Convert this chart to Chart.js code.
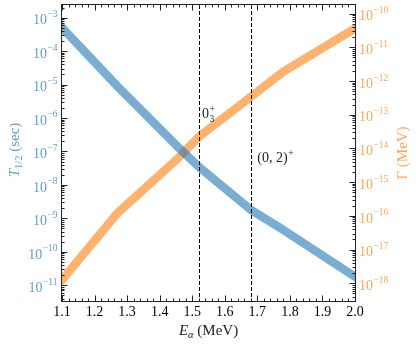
<!DOCTYPE html>
<html>
<head>
<meta charset="utf-8">
<script src="https://cdn.jsdelivr.net/npm/chart.js@4.4.1/dist/chart.umd.min.js"></script>
<style>
  html, body { margin: 0; padding: 0; background: #fff; }
  #wrap { width: 416px; height: 344px; }
</style>
</head>
<body>
<div id="wrap"><canvas id="decayChart" width="416" height="344"></canvas></div>
<script>
// alpha energies (MeV) and the two curves
const energies = [1.1, 1.27, 1.45, 1.52, 1.68, 1.78, 2.0];
const halfLives = [5.0e-4, 8.9e-6, 1.55e-7, 3.5e-8, 1.8e-9, 4.5e-10, 1.8e-11];
const widths = [1.26e-18, 1.2e-16, 4.5e-15, 2.2e-14, 3.4e-13, 1.9e-12, 3.6e-11];

// resonance levels marked with dashed lines
const levelEnergies = [1.52, 1.68];
const levelLabels = [
  { base: "0", sup: "+", sub: "3" },
  { base: "(0, 2)", sup: "+", sub: "" },
];
const levelLabelX = [1.53, 1.70];
const levelLabelY = [1e-6, 5e-8];

// tick labels
const xTickLabels = ["1.1", "1.2", "1.3", "1.4", "1.5", "1.6", "1.7", "1.8", "1.9", "2.0"];
const leftExponents = [-11, -10, -9, -8, -7, -6, -5, -4, -3];
const rightExponents = [-18, -17, -16, -15, -14, -13, -12, -11, -10];

const blueLine = "rgba(31, 119, 180, 0.6)";
const orangeLine = "rgba(255, 127, 14, 0.6)";
const blueText = "rgb(95, 158, 206)";
const orangeText = "rgb(255, 165, 90)";
const serif = "'Liberation Serif', 'DejaVu Serif', serif";

function drawPow(ctx, x, tickY, exp, align, color) {
  const base = "10";
  const ex = "\u2212" + Math.abs(exp);
  ctx.font = "14px " + serif;
  const wb = ctx.measureText(base).width;
  ctx.font = "9.5px " + serif;
  const we = ctx.measureText(ex).width;
  let x0 = align === "right" ? x - wb - we : x;
  ctx.fillStyle = color;
  ctx.textAlign = "left";
  ctx.textBaseline = "alphabetic";
  ctx.font = "14px " + serif;
  ctx.fillText(base, x0, tickY + 6.7);
  ctx.font = "9.5px " + serif;
  ctx.fillText(ex, x0 + wb + 0.5, tickY - 0.5);
}

const decor = {
  id: "decor",
  afterDatasetsDraw(chart) {
    const ctx = chart.ctx;
    const area = chart.chartArea;
    const xs = chart.scales.x, yl = chart.scales.y, yr = chart.scales.y2;
    ctx.save();

    // dashed level lines
    ctx.strokeStyle = "#000";
    ctx.lineWidth = 1;
    ctx.setLineDash([4, 2]);
    levelEnergies.forEach((e) => {
      const px = Math.round(xs.getPixelForValue(e)) + 0.5;
      ctx.beginPath();
      ctx.moveTo(px, area.top);
      ctx.lineTo(px, area.bottom);
      ctx.stroke();
    });
    ctx.setLineDash([]);

    // frame
    const L = Math.round(area.left) - 0.5, R = Math.round(area.right) + 0.5;
    const T = Math.round(area.top) - 0.5, B = Math.round(area.bottom) + 0.5;
    ctx.strokeStyle = "#222";
    ctx.lineWidth = 1;
    ctx.strokeRect(L, T, R - L, B - T);

    // x ticks (inward, top and bottom)
    ctx.beginPath();
    for (let i = 0; i <= 45; i++) {
      const v = 1.1 + i * 0.02;
      const px = Math.round(xs.getPixelForValue(v)) + 0.5;
      const len = i % 5 === 0 ? 6 : 3;
      ctx.moveTo(px, B); ctx.lineTo(px, B - len);
      ctx.moveTo(px, T); ctx.lineTo(px, T + len);
    }
    // log ticks
    const logTicks = (scale, xEdge, dir) => {
      const lo = Math.floor(Math.log10(scale.min)), hi = Math.ceil(Math.log10(scale.max));
      for (let n = lo; n <= hi; n++) {
        for (let k = 1; k <= 9; k++) {
          const v = k * Math.pow(10, n);
          if (v < scale.min || v > scale.max) continue;
          const py = Math.round(scale.getPixelForValue(v)) + 0.5;
          const len = k === 1 ? 6 : 3;
          ctx.moveTo(xEdge, py); ctx.lineTo(xEdge + dir * len, py);
        }
      }
    };
    logTicks(yl, L, 1);
    logTicks(yr, R, -1);
    ctx.stroke();

    // x tick labels
    ctx.fillStyle = "#000";
    ctx.font = "14px " + serif;
    ctx.textAlign = "center";
    ctx.textBaseline = "alphabetic";
    xTickLabels.forEach((t) => {
      ctx.fillText(t, xs.getPixelForValue(parseFloat(t)), area.bottom + 14.5);
    });

    // y tick labels
    leftExponents.forEach((e) => {
      drawPow(ctx, area.left - 5, yl.getPixelForValue(Math.pow(10, e)), e, "right", blueText);
    });
    rightExponents.forEach((e) => {
      drawPow(ctx, area.right + 4, yr.getPixelForValue(Math.pow(10, e)), e, "left", orangeText);
    });

    // x title: E_alpha (MeV)
    ctx.fillStyle = "#222";
    ctx.textAlign = "left";
    const cx = (area.left + area.right) / 2;
    ctx.font = "italic 15px " + serif;
    const wE = ctx.measureText("E").width;
    ctx.font = "italic 10.5px " + serif;
    const wA = ctx.measureText("\u03b1").width;
    ctx.font = "15px " + serif;
    const wM = ctx.measureText(" (MeV)").width;
    let x0 = cx - (wE + wA + wM) / 2;
    const by = 335;
    ctx.font = "italic 15px " + serif;
    ctx.fillText("E", x0, by);
    ctx.font = "italic 10.5px " + serif;
    ctx.fillText("\u03b1", x0 + wE, by + 2.5);
    ctx.font = "15px " + serif;
    ctx.fillText(" (MeV)", x0 + wE + wA, by);

    // left title: T_{1/2} (sec)
    ctx.save();
    ctx.translate(19, 150);
    ctx.rotate(-Math.PI / 2);
    ctx.fillStyle = blueText;
    ctx.font = "italic 15px " + serif;
    const wT = ctx.measureText("T").width;
    ctx.font = "10.5px " + serif;
    const wH = ctx.measureText("1/2").width;
    ctx.font = "15px " + serif;
    const wS = ctx.measureText(" (sec)").width;
    x0 = -(wT + wH + wS) / 2;
    ctx.font = "italic 15px " + serif;
    ctx.fillText("T", x0, 0);
    ctx.font = "10.5px " + serif;
    ctx.fillText("1/2", x0 + wT, 2.5);
    ctx.font = "15px " + serif;
    ctx.fillText(" (sec)", x0 + wT + wH, 0);
    ctx.restore();

    // right title: Gamma (MeV)
    ctx.save();
    ctx.translate(407, 153);
    ctx.rotate(-Math.PI / 2);
    ctx.fillStyle = orangeText;
    ctx.font = "15px " + serif;
    ctx.textAlign = "center";
    ctx.fillText("\u0393 (MeV)", 0, 0);
    ctx.restore();

    // level annotations
    ctx.fillStyle = "#222";
    ctx.textAlign = "left";
    levelLabels.forEach((lab, i) => {
      const px = xs.getPixelForValue(levelLabelX[i]);
      const py = yl.getPixelForValue(levelLabelY[i]);
      ctx.font = "14px " + serif;
      const wb = ctx.measureText(lab.base).width;
      ctx.fillText(lab.base, px, py);
      ctx.font = "9.5px " + serif;
      ctx.fillText(lab.sup, px + wb + 0.5, py - 5.5);
      if (lab.sub) ctx.fillText(lab.sub, px + wb + 0.5, py + 4);
    });

    ctx.restore();
  },
};

const hiddenAxis = {
  grid: { display: false },
  border: { display: false },
  ticks: { display: false },
};

const ctx = document.getElementById("decayChart").getContext("2d");
const decayChart = new Chart(ctx, {
  type: "line",
  data: {
    datasets: [
      {
        label: "T1/2",
        data: energies.map((e, i) => ({ x: e, y: halfLives[i] })),
        yAxisID: "y",
        borderColor: blueLine,
        borderWidth: 8.5,
        borderJoinStyle: "round",
        borderCapStyle: "square",
        pointRadius: 0,
        tension: 0,
        clip: 0,
      },
      {
        label: "Gamma",
        data: energies.map((e, i) => ({ x: e, y: widths[i] })),
        yAxisID: "y2",
        borderColor: orangeLine,
        borderWidth: 8.5,
        borderJoinStyle: "round",
        borderCapStyle: "square",
        pointRadius: 0,
        tension: 0,
        clip: 0,
      },
    ],
  },
  options: {
    responsive: false,
    animation: false,
    devicePixelRatio: 1,
    layout: { padding: { top: 5, left: 0, right: 0, bottom: 0 } },
    plugins: { legend: { display: false }, tooltip: { enabled: false } },
    scales: {
      x: {
        type: "linear",
        min: 1.1,
        max: 2.0,
        ...hiddenAxis,
        afterFit: (s) => { s.height = 43; },
      },
      y: {
        type: "logarithmic",
        position: "left",
        min: Math.pow(10, -11.469),
        max: Math.pow(10, -2.624),
        ...hiddenAxis,
        afterFit: (s) => { s.width = 62; },
      },
      y2: {
        type: "logarithmic",
        position: "right",
        min: Math.pow(10, -18.524),
        max: Math.pow(10, -9.745),
        ...hiddenAxis,
        afterFit: (s) => { s.width = 61; },
      },
    },
  },
  plugins: [decor],
});
</script>
</body>
</html>
